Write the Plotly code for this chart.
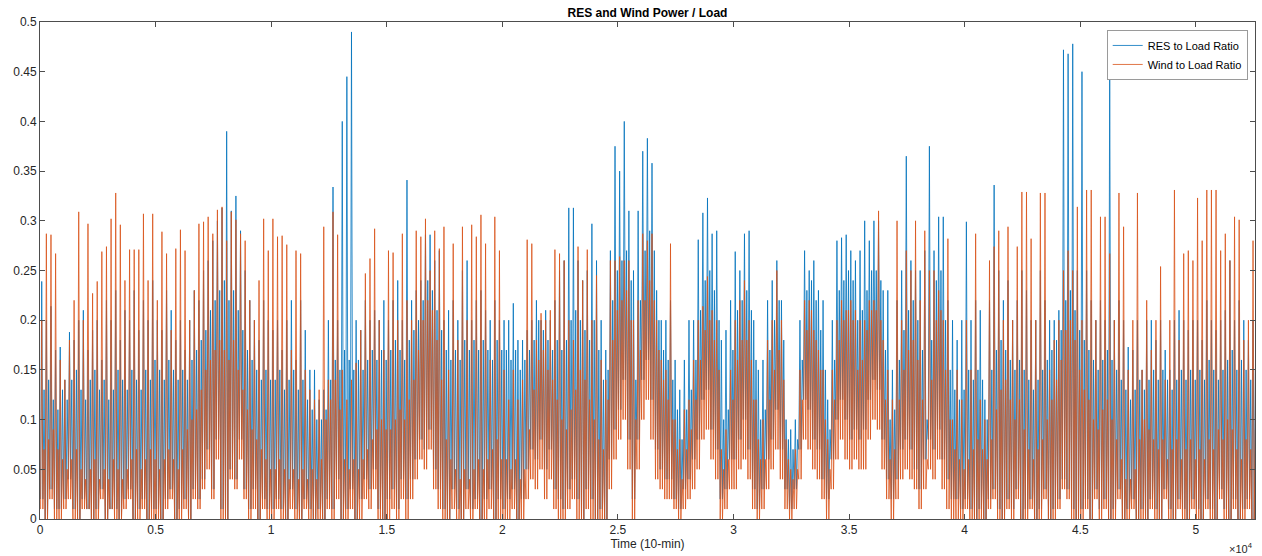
import plotly.graph_objects as go

# 10-minute samples over one year, summarised in blocks of 200 samples.
# For each block and series: the lowest value, the highest value, and the
# level below which most of the block's samples fall (the dense band).
n_samples = 52560
block = 200

res_hi = [
    0.239, 0.20, 0.214, 0.17, 0.173, 0.14, 0.188, 0.18, 0.20, 0.21, 0.17, 0.19, 0.20, 0.16, 0.22, 0.20, 0.23, 0.18, 0.21, 0.20, 0.23, 0.19, 0.22, 0.20, 0.24,
    0.20, 0.19, 0.23, 0.21, 0.18, 0.20, 0.17, 0.20, 0.23, 0.22, 0.25, 0.26, 0.28, 0.30, 0.313, 0.39, 0.31, 0.325, 0.29, 0.25, 0.22, 0.20, 0.18, 0.22, 0.20,
    0.19, 0.20, 0.17, 0.20, 0.22, 0.16, 0.22, 0.19, 0.15, 0.15, 0.12, 0.13, 0.20, 0.334, 0.20, 0.40, 0.445, 0.49, 0.20, 0.19, 0.22, 0.20, 0.21, 0.20, 0.22,
    0.20, 0.22, 0.24, 0.20, 0.341, 0.22, 0.23, 0.24, 0.286, 0.286, 0.26, 0.27, 0.20, 0.21, 0.22, 0.20, 0.25, 0.26, 0.20, 0.22, 0.23, 0.21, 0.20, 0.22, 0.20,
    0.20, 0.20, 0.217, 0.18, 0.18, 0.19, 0.20, 0.22, 0.20, 0.21, 0.20, 0.22, 0.25, 0.26, 0.313, 0.313, 0.26, 0.24, 0.25, 0.297, 0.26, 0.20, 0.17, 0.27, 0.375,
    0.35, 0.40, 0.31, 0.25, 0.31, 0.37, 0.383, 0.358, 0.23, 0.20, 0.20, 0.22, 0.16, 0.13, 0.16, 0.20, 0.20, 0.281, 0.308, 0.323, 0.287, 0.29, 0.18, 0.19, 0.22,
    0.269, 0.25, 0.287, 0.29, 0.20, 0.15, 0.16, 0.22, 0.24, 0.26, 0.22, 0.10, 0.09, 0.10, 0.20, 0.27, 0.25, 0.26, 0.23, 0.22, 0.12, 0.20, 0.28, 0.283, 0.286,
    0.27, 0.26, 0.27, 0.30, 0.28, 0.30, 0.30, 0.23, 0.23, 0.15, 0.22, 0.25, 0.365, 0.26, 0.25, 0.25, 0.27, 0.375, 0.27, 0.304, 0.304, 0.22, 0.20, 0.18, 0.20,
    0.299, 0.20, 0.22, 0.21, 0.12, 0.22, 0.336, 0.25, 0.22, 0.24, 0.20, 0.22, 0.25, 0.23, 0.20, 0.20, 0.25, 0.22, 0.20, 0.20, 0.21, 0.472, 0.468, 0.478, 0.25,
    0.45, 0.25, 0.22, 0.20, 0.22, 0.20, 0.46, 0.20, 0.22, 0.20, 0.173, 0.17, 0.20, 0.15, 0.20, 0.20, 0.18, 0.20, 0.17, 0.15, 0.20, 0.21, 0.20, 0.19, 0.20,
    0.20, 0.18, 0.22, 0.20, 0.19, 0.20, 0.21, 0.26, 0.20, 0.22, 0.20, 0.18, 0.20,
]

res_band = [
    0.13, 0.14, 0.12, 0.11, 0.13, 0.12, 0.14, 0.15, 0.13, 0.12, 0.14, 0.15, 0.13, 0.14, 0.12, 0.13, 0.15, 0.14, 0.13, 0.15, 0.14, 0.13, 0.15, 0.14, 0.16,
    0.15, 0.14, 0.16, 0.15, 0.14, 0.15, 0.14, 0.16, 0.17, 0.18, 0.19, 0.21, 0.22, 0.23, 0.24, 0.22, 0.23, 0.21, 0.19, 0.17, 0.16, 0.15, 0.14, 0.15, 0.14,
    0.14, 0.15, 0.13, 0.14, 0.15, 0.13, 0.14, 0.12, 0.11, 0.10, 0.10, 0.11, 0.14, 0.16, 0.15, 0.17, 0.16, 0.15, 0.16, 0.15, 0.16, 0.17, 0.16, 0.17, 0.16,
    0.17, 0.18, 0.17, 0.16, 0.18, 0.19, 0.20, 0.22, 0.24, 0.23, 0.21, 0.19, 0.17, 0.16, 0.17, 0.16, 0.18, 0.17, 0.18, 0.17, 0.18, 0.17, 0.16, 0.18, 0.17,
    0.17, 0.16, 0.17, 0.15, 0.16, 0.17, 0.18, 0.20, 0.19, 0.18, 0.17, 0.18, 0.17, 0.18, 0.20, 0.21, 0.20, 0.19, 0.18, 0.20, 0.17, 0.14, 0.15, 0.22, 0.25,
    0.26, 0.27, 0.24, 0.14, 0.22, 0.27, 0.29, 0.27, 0.20, 0.17, 0.16, 0.14, 0.11, 0.08, 0.11, 0.13, 0.16, 0.21, 0.24, 0.25, 0.23, 0.20, 0.10, 0.11, 0.17,
    0.21, 0.22, 0.23, 0.21, 0.16, 0.10, 0.11, 0.17, 0.20, 0.22, 0.18, 0.08, 0.07, 0.08, 0.16, 0.23, 0.24, 0.22, 0.19, 0.15, 0.09, 0.16, 0.23, 0.24, 0.25,
    0.24, 0.20, 0.21, 0.23, 0.25, 0.25, 0.24, 0.17, 0.10, 0.11, 0.16, 0.19, 0.21, 0.22, 0.20, 0.17, 0.10, 0.18, 0.24, 0.25, 0.20, 0.15, 0.13, 0.12, 0.13,
    0.15, 0.14, 0.15, 0.14, 0.10, 0.15, 0.17, 0.18, 0.17, 0.16, 0.15, 0.16, 0.15, 0.14, 0.13, 0.14, 0.15, 0.16, 0.17, 0.18, 0.19, 0.22, 0.23, 0.21, 0.19,
    0.18, 0.17, 0.16, 0.15, 0.16, 0.17, 0.16, 0.15, 0.14, 0.13, 0.12, 0.13, 0.14, 0.13, 0.14, 0.15, 0.14, 0.15, 0.14, 0.13, 0.14, 0.15, 0.14, 0.15, 0.14,
    0.15, 0.14, 0.16, 0.15, 0.14, 0.15, 0.16, 0.17, 0.15, 0.16, 0.15, 0.14, 0.15,
]

res_lo = [
    0.02, 0.00, 0.03, 0.01, 0.01, 0.02, 0.04, 0.01, 0.00, 0.02, 0.01, 0.00, 0.01, 0.03, 0.00, 0.01, 0.01, 0.00, 0.02, 0.03, 0.00, 0.01, 0.02, 0.00, 0.01,
    0.01, 0.00, 0.02, 0.03, 0.00, 0.01, 0.02, 0.00, 0.03, 0.02, 0.04, 0.07, 0.03, 0.08, 0.01, 0.00, 0.05, 0.04, 0.08, 0.03, 0.01, 0.03, 0.00, 0.02, 0.01,
    0.01, 0.02, 0.01, 0.00, 0.03, 0.01, 0.00, 0.02, 0.01, 0.00, 0.01, 0.00, 0.02, 0.01, 0.04, 0.00, 0.01, 0.03, 0.00, 0.02, 0.04, 0.03, 0.05, 0.01, 0.00,
    0.02, 0.03, 0.01, 0.04, 0.02, 0.04, 0.06, 0.08, 0.07, 0.09, 0.05, 0.03, 0.01, 0.00, 0.03, 0.01, 0.00, 0.03, 0.01, 0.02, 0.00, 0.02, 0.03, 0.00, 0.02,
    0.01, 0.02, 0.03, 0.00, 0.02, 0.05, 0.07, 0.06, 0.08, 0.05, 0.07, 0.03, 0.02, 0.01, 0.03, 0.04, 0.02, 0.00, 0.03, 0.02, 0.00, 0.01, 0.00, 0.06, 0.09,
    0.11, 0.14, 0.08, 0.02, 0.08, 0.14, 0.16, 0.12, 0.07, 0.05, 0.04, 0.04, 0.02, 0.01, 0.03, 0.04, 0.06, 0.08, 0.12, 0.13, 0.09, 0.07, 0.02, 0.03, 0.06,
    0.06, 0.08, 0.10, 0.07, 0.03, 0.01, 0.03, 0.06, 0.08, 0.11, 0.07, 0.03, 0.01, 0.03, 0.07, 0.12, 0.11, 0.08, 0.07, 0.04, 0.02, 0.06, 0.10, 0.12, 0.10,
    0.08, 0.09, 0.08, 0.09, 0.12, 0.14, 0.13, 0.08, 0.04, 0.02, 0.04, 0.07, 0.08, 0.07, 0.05, 0.03, 0.06, 0.08, 0.07, 0.09, 0.06, 0.04, 0.02, 0.02, 0.01,
    0.02, 0.01, 0.00, 0.01, 0.00, 0.02, 0.03, 0.01, 0.00, 0.02, 0.01, 0.03, 0.00, 0.01, 0.02, 0.00, 0.01, 0.03, 0.00, 0.01, 0.02, 0.04, 0.03, 0.01, 0.00,
    0.01, 0.02, 0.00, 0.03, 0.01, 0.02, 0.00, 0.01, 0.03, 0.00, 0.01, 0.02, 0.00, 0.01, 0.00, 0.02, 0.01, 0.00, 0.03, 0.01, 0.00, 0.02, 0.01, 0.00, 0.02,
    0.01, 0.00, 0.02, 0.01, 0.00, 0.03, 0.01, 0.00, 0.02, 0.00, 0.01, 0.02, 0.00,
]

wind_hi = [
    0.20, 0.287, 0.286, 0.267, 0.16, 0.14, 0.18, 0.22, 0.309, 0.20, 0.297, 0.227, 0.239, 0.269, 0.274, 0.302, 0.328, 0.296, 0.24, 0.271, 0.271, 0.271, 0.307, 0.24, 0.307,
    0.22, 0.289, 0.267, 0.19, 0.272, 0.291, 0.27, 0.20, 0.23, 0.297, 0.299, 0.304, 0.287, 0.311, 0.314, 0.28, 0.309, 0.301, 0.287, 0.28, 0.22, 0.20, 0.24, 0.302, 0.27,
    0.302, 0.284, 0.285, 0.276, 0.17, 0.27, 0.267, 0.15, 0.13, 0.12, 0.13, 0.294, 0.14, 0.309, 0.286, 0.15, 0.12, 0.14, 0.157, 0.19, 0.247, 0.262, 0.292, 0.20, 0.17,
    0.27, 0.268, 0.20, 0.287, 0.22, 0.20, 0.29, 0.284, 0.302, 0.25, 0.29, 0.272, 0.294, 0.15, 0.277, 0.18, 0.294, 0.20, 0.296, 0.284, 0.306, 0.277, 0.16, 0.304, 0.27,
    0.15, 0.12, 0.15, 0.12, 0.14, 0.281, 0.277, 0.18, 0.207, 0.20, 0.21, 0.271, 0.267, 0.26, 0.20, 0.18, 0.274, 0.24, 0.271, 0.20, 0.245, 0.16, 0.14, 0.26, 0.26,
    0.264, 0.26, 0.26, 0.20, 0.22, 0.287, 0.28, 0.287, 0.20, 0.16, 0.15, 0.277, 0.10, 0.08, 0.11, 0.12, 0.16, 0.20, 0.214, 0.244, 0.21, 0.20, 0.07, 0.09, 0.15,
    0.20, 0.22, 0.24, 0.20, 0.12, 0.08, 0.10, 0.18, 0.20, 0.25, 0.20, 0.08, 0.05, 0.07, 0.15, 0.22, 0.22, 0.19, 0.17, 0.15, 0.08, 0.15, 0.20, 0.22, 0.21,
    0.22, 0.21, 0.20, 0.20, 0.22, 0.22, 0.31, 0.18, 0.15, 0.12, 0.30, 0.20, 0.27, 0.25, 0.30, 0.22, 0.29, 0.25, 0.25, 0.23, 0.20, 0.282, 0.10, 0.15, 0.12,
    0.20, 0.15, 0.287, 0.12, 0.10, 0.26, 0.274, 0.29, 0.20, 0.294, 0.20, 0.274, 0.329, 0.329, 0.282, 0.20, 0.328, 0.328, 0.15, 0.18, 0.20, 0.25, 0.27, 0.25, 0.314,
    0.20, 0.331, 0.331, 0.20, 0.304, 0.304, 0.267, 0.20, 0.328, 0.294, 0.15, 0.20, 0.328, 0.15, 0.22, 0.17, 0.20, 0.254, 0.14, 0.20, 0.331, 0.18, 0.267, 0.27, 0.26,
    0.323, 0.28, 0.331, 0.331, 0.331, 0.27, 0.287, 0.26, 0.304, 0.301, 0.18, 0.20, 0.28,
]

wind_band = [
    0.07, 0.08, 0.09, 0.07, 0.06, 0.05, 0.06, 0.07, 0.05, 0.04, 0.05, 0.06, 0.04, 0.05, 0.04, 0.06, 0.05, 0.04, 0.05, 0.06, 0.07, 0.05, 0.06, 0.07, 0.06,
    0.05, 0.06, 0.07, 0.06, 0.05, 0.07, 0.09, 0.10, 0.11, 0.13, 0.15, 0.16, 0.17, 0.18, 0.17, 0.16, 0.18, 0.15, 0.13, 0.11, 0.09, 0.08, 0.07, 0.06, 0.05,
    0.05, 0.06, 0.05, 0.04, 0.05, 0.04, 0.05, 0.04, 0.05, 0.04, 0.06, 0.10, 0.12, 0.14, 0.11, 0.06, 0.05, 0.06, 0.05, 0.06, 0.07, 0.08, 0.09, 0.10, 0.09,
    0.09, 0.10, 0.11, 0.10, 0.12, 0.14, 0.17, 0.20, 0.22, 0.21, 0.18, 0.14, 0.08, 0.06, 0.05, 0.04, 0.05, 0.04, 0.05, 0.06, 0.05, 0.06, 0.07, 0.08, 0.06,
    0.06, 0.05, 0.06, 0.04, 0.05, 0.09, 0.13, 0.16, 0.17, 0.15, 0.14, 0.12, 0.10, 0.09, 0.11, 0.13, 0.15, 0.14, 0.12, 0.10, 0.08, 0.07, 0.12, 0.18, 0.21,
    0.22, 0.23, 0.20, 0.10, 0.17, 0.22, 0.24, 0.22, 0.17, 0.14, 0.12, 0.10, 0.07, 0.04, 0.07, 0.09, 0.12, 0.16, 0.19, 0.20, 0.18, 0.15, 0.05, 0.06, 0.12,
    0.16, 0.18, 0.18, 0.16, 0.12, 0.06, 0.06, 0.12, 0.15, 0.17, 0.14, 0.06, 0.04, 0.05, 0.12, 0.19, 0.21, 0.18, 0.15, 0.10, 0.05, 0.12, 0.18, 0.20, 0.21,
    0.20, 0.15, 0.16, 0.19, 0.21, 0.21, 0.20, 0.12, 0.06, 0.07, 0.12, 0.15, 0.17, 0.18, 0.16, 0.12, 0.06, 0.14, 0.20, 0.21, 0.15, 0.10, 0.07, 0.06, 0.05,
    0.06, 0.07, 0.08, 0.07, 0.06, 0.08, 0.11, 0.13, 0.14, 0.12, 0.10, 0.12, 0.09, 0.07, 0.06, 0.07, 0.08, 0.10, 0.12, 0.14, 0.16, 0.19, 0.20, 0.18, 0.15,
    0.13, 0.12, 0.10, 0.09, 0.11, 0.12, 0.10, 0.08, 0.06, 0.04, 0.04, 0.05, 0.08, 0.10, 0.09, 0.08, 0.07, 0.08, 0.06, 0.07, 0.08, 0.06, 0.07, 0.08, 0.06,
    0.07, 0.06, 0.08, 0.07, 0.09, 0.08, 0.10, 0.09, 0.07, 0.06, 0.08, 0.07, 0.09,
]

wind_lo = [
    0.01, 0.00, 0.02, 0.00, 0.00, 0.01, 0.02, 0.00, 0.00, 0.01, 0.01, 0.00, 0.00, 0.02, 0.00, 0.01, 0.00, 0.00, 0.01, 0.02, 0.00, 0.00, 0.01, 0.00, 0.00,
    0.00, 0.00, 0.01, 0.02, 0.00, 0.00, 0.01, 0.00, 0.02, 0.01, 0.03, 0.05, 0.02, 0.06, 0.00, 0.00, 0.04, 0.03, 0.06, 0.02, 0.00, 0.01, 0.00, 0.01, 0.00,
    0.00, 0.01, 0.00, 0.00, 0.01, 0.00, 0.00, 0.01, 0.00, 0.00, 0.00, 0.00, 0.01, 0.00, 0.02, 0.00, 0.00, 0.01, 0.00, 0.00, 0.02, 0.01, 0.03, 0.00, 0.00,
    0.00, 0.01, 0.00, 0.02, 0.00, 0.02, 0.04, 0.06, 0.05, 0.07, 0.03, 0.01, 0.00, 0.00, 0.01, 0.00, 0.00, 0.01, 0.00, 0.01, 0.00, 0.00, 0.01, 0.00, 0.00,
    0.00, 0.00, 0.01, 0.00, 0.00, 0.02, 0.04, 0.03, 0.05, 0.02, 0.04, 0.01, 0.00, 0.00, 0.01, 0.02, 0.00, 0.00, 0.01, 0.00, 0.00, 0.00, 0.00, 0.03, 0.06,
    0.08, 0.10, 0.05, 0.00, 0.05, 0.10, 0.12, 0.08, 0.04, 0.03, 0.02, 0.02, 0.01, 0.00, 0.01, 0.02, 0.03, 0.05, 0.08, 0.09, 0.06, 0.04, 0.00, 0.01, 0.03,
    0.03, 0.05, 0.06, 0.04, 0.01, 0.00, 0.01, 0.03, 0.05, 0.07, 0.04, 0.01, 0.00, 0.01, 0.04, 0.08, 0.07, 0.05, 0.04, 0.02, 0.00, 0.03, 0.06, 0.08, 0.06,
    0.05, 0.06, 0.05, 0.05, 0.08, 0.10, 0.09, 0.05, 0.02, 0.00, 0.02, 0.04, 0.05, 0.04, 0.03, 0.01, 0.03, 0.05, 0.04, 0.06, 0.03, 0.01, 0.00, 0.00, 0.00,
    0.01, 0.00, 0.00, 0.00, 0.00, 0.01, 0.02, 0.00, 0.00, 0.01, 0.00, 0.02, 0.00, 0.00, 0.01, 0.00, 0.00, 0.02, 0.00, 0.00, 0.01, 0.03, 0.02, 0.00, 0.00,
    0.00, 0.01, 0.00, 0.02, 0.00, 0.01, 0.00, 0.00, 0.02, 0.00, 0.00, 0.01, 0.00, 0.00, 0.00, 0.01, 0.00, 0.00, 0.02, 0.00, 0.00, 0.01, 0.00, 0.00, 0.01,
    0.00, 0.00, 0.01, 0.00, 0.00, 0.02, 0.00, 0.00, 0.01, 0.00, 0.00, 0.01, 0.00,
]

x_tick_vals = [0, 5000, 10000, 15000, 20000, 25000, 30000, 35000, 40000, 45000, 50000]
x_tick_text = ["0", "0.5", "1", "1.5", "2", "2.5", "3", "3.5", "4", "4.5", "5"]

series_names = ["RES to Load Ratio", "Wind to Load Ratio"]
series_colors = ["#0072BD", "#D95319"]


def block_trace(lo, hi, band):
    """Within each block swing low -> peak -> low -> band top."""
    xs, ys = [], []
    for k in range(len(lo)):
        start = k * block
        xs += [start + block * f for f in (0.125, 0.375, 0.625, 0.875)]
        ys += [lo[k], hi[k], lo[k], band[k]]
    return xs, ys


fig = go.Figure()
for name, color, lo, hi, band in [
    (series_names[0], series_colors[0], res_lo, res_hi, res_band),
    (series_names[1], series_colors[1], wind_lo, wind_hi, wind_band),
]:
    xs, ys = block_trace(lo, hi, band)
    fig.add_trace(go.Scatter(
        x=xs, y=ys, mode="lines", name=name,
        line=dict(color=color, width=0.8),
    ))

axis_common = dict(
    showline=True, linecolor="#4d4d4d", linewidth=1, mirror="ticks",
    ticks="inside", ticklen=5, tickcolor="#4d4d4d", showgrid=False,
    zeroline=False, tickfont=dict(size=12, color="#262626"),
)

fig.update_layout(
    width=1262, height=556,
    margin=dict(l=40, r=7, t=22, b=37),
    paper_bgcolor="white", plot_bgcolor="white",
    font=dict(family="Liberation Sans, Arial, sans-serif", color="#262626"),
    title=dict(text="<b>RES and Wind Power / Load</b>", x=0.5, xref="paper",
               y=0.985, yref="container", yanchor="top",
               font=dict(size=12, color="#000000")),
    xaxis=dict(range=[0, n_samples], tickvals=x_tick_vals, ticktext=x_tick_text,
               title=dict(text="Time (10-min)", standoff=2, font=dict(size=12)),
               **axis_common),
    yaxis=dict(range=[0, 0.5], dtick=0.05, **axis_common),
    legend=dict(x=0.994, y=0.984, xanchor="right", yanchor="top",
                bgcolor="white", bordercolor="#9a9a9a", borderwidth=1,
                font=dict(size=11, color="#000000"), itemwidth=30,
                tracegroupgap=0),
    showlegend=True,
    annotations=[dict(text="\u00d710<sup>4</sup>", xref="paper", yref="paper",
                      x=1.0, y=0, xanchor="right", yanchor="top", yshift=-20,
                      showarrow=False, font=dict(size=11, color="#262626"))],
)

fig.write_html("out.html")
